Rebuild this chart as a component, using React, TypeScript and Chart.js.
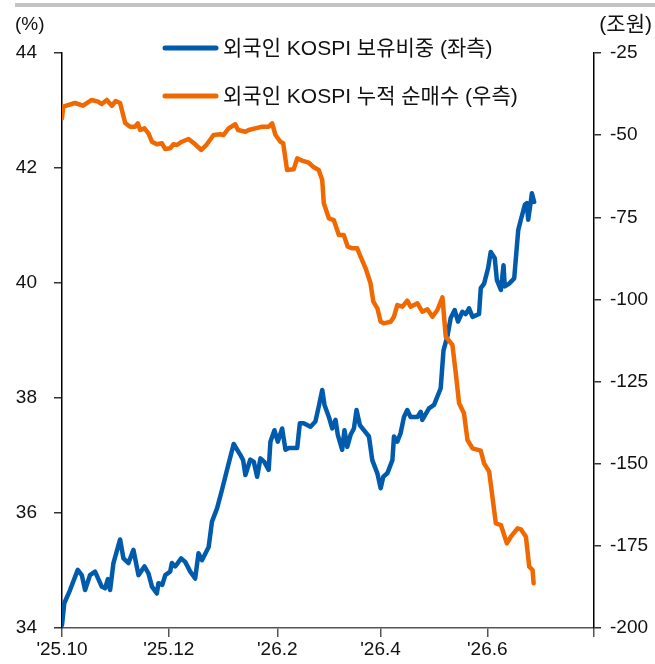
import React, { useEffect, useRef } from "react";
import { Chart, registerables } from "chart.js";

Chart.register(...registerables);

// days since 2025-10-01
const xTickDays = [0, 61, 123, 182, 243, 304];
const xTickLabels = ["'25.10", "'25.12", "'26.2", "'26.4", "'26.6", ""];

const blueLabel = "외국인 KOSPI 보유비중 (좌측)";
const orangeLabel = "외국인 KOSPI 누적 순매수 (우측)";

const blueDays = [0, 1.3, 4.6, 9, 11.3, 13.2, 16, 18.9, 22.7, 24.6, 26.2, 27.5, 29.4, 33.2, 35.1, 38, 40.8, 43.7, 47.1, 49.4, 51.4, 54.2, 55.1, 57.3, 59, 61.8, 62.8, 64.7, 68.1, 70.4, 73.3, 76.1, 78, 80, 83.8, 85.7, 88.6, 91.4, 94.3, 98.1, 101.9, 103.5, 104.8, 107.6, 109.6, 111.5, 113.4, 115.6, 118.1, 119.1, 121.4, 123.3, 125.8, 127.7, 129.6, 134.4, 135.9, 138.1, 142, 144.8, 146.7, 148.7, 150, 152.5, 154.4, 156.3, 157.6, 160.1, 161.4, 163, 164.9, 166.8, 168.3, 170.2, 172.5, 175.4, 177.3, 180.2, 182.1, 183.6, 185.9, 188.8, 189.7, 191.6, 193.5, 195.4, 197.3, 199.2, 203.1, 205, 205.9, 209.7, 212.6, 216.4, 218, 220.2, 222.1, 224.4, 226.3, 228.8, 230.7, 232.6, 234.6, 238.3, 239.3, 241.2, 243.5, 245, 247.3, 248.5, 250.8, 252.3, 253, 255.5, 258.4, 260.7, 262.2, 264.5, 265.6, 266.4, 267.5, 268.5, 269.8];
const blueValues = [34.05, 34.43, 34.66, 35.01, 34.92, 34.66, 34.92, 34.98, 34.72, 34.69, 34.85, 34.66, 35.13, 35.54, 35.21, 35.13, 35.36, 34.92, 35.07, 34.95, 34.72, 34.6, 34.78, 34.75, 34.92, 34.98, 35.13, 35.07, 35.21, 35.15, 34.98, 34.86, 35.3, 35.18, 35.41, 35.85, 36.08, 36.4, 36.75, 37.2, 37.01, 36.92, 36.66, 36.93, 36.89, 36.63, 36.95, 36.89, 36.75, 37.24, 37.44, 37.24, 37.47, 37.1, 37.13, 37.13, 37.56, 37.56, 37.5, 37.59, 37.85, 38.14, 37.88, 37.67, 37.47, 37.62, 37.36, 37.1, 37.44, 37.15, 37.36, 37.47, 37.79, 37.53, 37.44, 37.33, 36.92, 36.69, 36.43, 36.63, 36.69, 36.92, 37.33, 37.24, 37.39, 37.67, 37.79, 37.67, 37.67, 37.76, 37.62, 37.82, 37.88, 38.17, 38.83, 39.07, 39.39, 39.53, 39.33, 39.5, 39.46, 39.56, 39.41, 39.46, 39.91, 39.99, 40.26, 40.54, 40.43, 40.05, 39.88, 40.31, 39.94, 39.99, 40.08, 40.92, 41.1, 41.36, 41.39, 41.1, 41.33, 41.56, 41.41];

const orangeDays = [0, 0.7, 7.4, 12, 17, 20.6, 22.7, 25.6, 28.5, 30.7, 33.2, 36.1, 38.9, 41.8, 43.3, 44.7, 47.1, 49.4, 51.4, 54.2, 57.1, 59, 61.8, 63.7, 65.7, 68.5, 72.3, 76.1, 79.6, 82.8, 86.6, 90.5, 92.3, 95.2, 99, 100.6, 104.8, 106.7, 110.5, 114.3, 118.1, 120.1, 122, 124.8, 126.4, 128.6, 132.4, 134.4, 137.2, 141, 143.9, 146.7, 148.7, 149.6, 152.5, 155.3, 158.2, 161, 163.3, 165.9, 168.7, 170.6, 173.5, 176.3, 177.9, 180.2, 182.1, 183.9, 187.8, 189.7, 191.6, 194.5, 197.3, 199.2, 203.1, 205.9, 208.8, 211.7, 214.5, 217.4, 219.3, 223.1, 225, 226.9, 229.7, 231.7, 234.6, 239.3, 241.2, 244.1, 247.9, 250.8, 254.2, 256.5, 260.3, 262.2, 265.1, 267, 268.9, 269.5];
const orangeValues = [-44.87, -41.34, -40.22, -41.04, -39.3, -39.82, -40.52, -39.3, -41.04, -39.61, -40.22, -46.3, -47.43, -47.43, -46.4, -48.43, -47.92, -49.44, -52.0, -52.79, -52.48, -54.22, -54.0, -52.79, -53.0, -52.0, -51.17, -52.79, -54.52, -52.79, -49.96, -49.74, -49.96, -47.92, -46.7, -48.43, -48.95, -48.43, -47.92, -47.43, -47.43, -46.4, -49.96, -52.0, -52.48, -60.61, -60.4, -57.05, -57.78, -58.39, -59.79, -60.61, -63.65, -70.74, -75.31, -75.83, -80.39, -80.39, -83.95, -84.44, -84.44, -87.0, -90.53, -95.09, -100.69, -102.7, -106.78, -107.27, -106.78, -105.26, -101.7, -102.21, -100.39, -102.21, -101.18, -103.74, -103.0, -105.26, -103.22, -99.35, -111.34, -113.87, -122.39, -131.62, -134.66, -142.78, -145.31, -146.04, -149.88, -152.43, -168.14, -168.66, -174.23, -172.22, -169.66, -169.97, -172.22, -181.35, -182.35, -186.4];

const BLUE = "#005bac";
const ORANGE = "#f06800";
const FONT = '"Liberation Sans", Arial, "Noto Sans CJK KR", sans-serif';
const NARROW = '"Liberation Sans Narrow", "Arial Narrow", "Liberation Sans", sans-serif';

const decorPlugin = {
  id: "decor",
  afterDraw(chart: any) {
    const ctx = chart.ctx as CanvasRenderingContext2D;
    ctx.save();
    // top gray bar
    ctx.fillStyle = "#c4c4c4";
    ctx.fillRect(15, 3, 640, 4);
    // unit labels
    ctx.fillStyle = "#111";
    ctx.textBaseline = "middle";
    ctx.font = `19px ${NARROW}`;
    ctx.textAlign = "left";
    ctx.fillText("(%)", 15, 25);
    ctx.font = `21px ${FONT}`;
    ctx.textAlign = "right";
    ctx.fillText("(조원)", 652, 25);
    // legend
    const rows = [
      { ds: chart.data.datasets[0], y: 48 },
      { ds: chart.data.datasets[1], y: 96 },
    ];
    ctx.textAlign = "left";
    ctx.font = `21px ${FONT}`;
    rows.forEach((r) => {
      ctx.strokeStyle = r.ds.borderColor;
      ctx.lineWidth = 5;
      ctx.lineCap = "round";
      ctx.beginPath();
      ctx.moveTo(165, r.y);
      ctx.lineTo(216, r.y);
      ctx.stroke();
      ctx.fillStyle = "#111";
      ctx.fillText(r.ds.label, 223, r.y + 1);
    });
    ctx.restore();
  },
};

export default function App() {
  const ref = useRef<HTMLCanvasElement>(null);
  useEffect(() => {
    if (!ref.current) return;
    const chart = new Chart(ref.current, {
      type: "line",
      data: {
        datasets: [
          {
            label: blueLabel,
            data: blueDays.map((d, i) => ({ x: d, y: blueValues[i] })),
            borderColor: BLUE,
            backgroundColor: BLUE,
            borderWidth: 4.5,
            pointRadius: 0,
            tension: 0,
            borderJoinStyle: "round",
            borderCapStyle: "round",
            yAxisID: "y",
            order: 1,
          },
          {
            label: orangeLabel,
            data: orangeDays.map((d, i) => ({ x: d, y: orangeValues[i] })),
            borderColor: ORANGE,
            backgroundColor: ORANGE,
            borderWidth: 4.5,
            pointRadius: 0,
            tension: 0,
            borderJoinStyle: "round",
            borderCapStyle: "round",
            yAxisID: "y1",
            order: 0,
          },
        ],
      },
      options: {
        animation: false,
        responsive: true,
        maintainAspectRatio: false,
        layout: { padding: { top: 53, left: 0, right: 0, bottom: 0 } },
        plugins: { legend: { display: false }, tooltip: { enabled: false } },
        scales: {
          x: {
            type: "linear",
            min: 0,
            max: 304,
            afterBuildTicks: (scale: any) => {
              scale.ticks = xTickDays.map((v) => ({ value: v }));
            },
            afterFit: (scale: any) => {
              scale.height = 36;
            },
            border: { display: true, color: "#555", width: 1.5 },
            grid: { display: true, drawOnChartArea: false, drawTicks: true, tickLength: 9, color: "#555", lineWidth: 1.5 },
            ticks: {
              autoSkip: false,
              maxRotation: 0,
              padding: 1,
              color: "#111",
              font: { family: NARROW, size: 19 },
              callback: (v: any) => {
                const i = xTickDays.indexOf(Number(v));
                return i >= 0 ? xTickLabels[i] : "";
              },
            },
          },
          y: {
            position: "left",
            min: 34,
            max: 44,
            afterFit: (scale: any) => {
              scale.width = 62;
            },
            border: { display: true, color: "#000", width: 1.5 },
            grid: { display: true, drawOnChartArea: false, drawTicks: true, tickLength: 8, color: "#333", lineWidth: 1.5 },
            ticks: { stepSize: 2, padding: 17, color: "#111", font: { family: NARROW, size: 19 } },
          },
          y1: {
            position: "right",
            min: -200,
            max: -25,
            afterFit: (scale: any) => {
              scale.width = 61;
            },
            border: { display: true, color: "#000", width: 1.5 },
            grid: { display: true, drawOnChartArea: false, drawTicks: true, tickLength: 7, color: "#333", lineWidth: 1.5 },
            ticks: { stepSize: 25, padding: 9, color: "#111", font: { family: NARROW, size: 19 } },
          },
        },
      },
      plugins: [decorPlugin],
    } as any);
    return () => chart.destroy();
  }, []);
  return (
    <div style={{ position: "absolute", left: 0, top: 0, width: 655, height: 664, background: "#fff" }}>
      <canvas ref={ref} />
    </div>
  );
}
